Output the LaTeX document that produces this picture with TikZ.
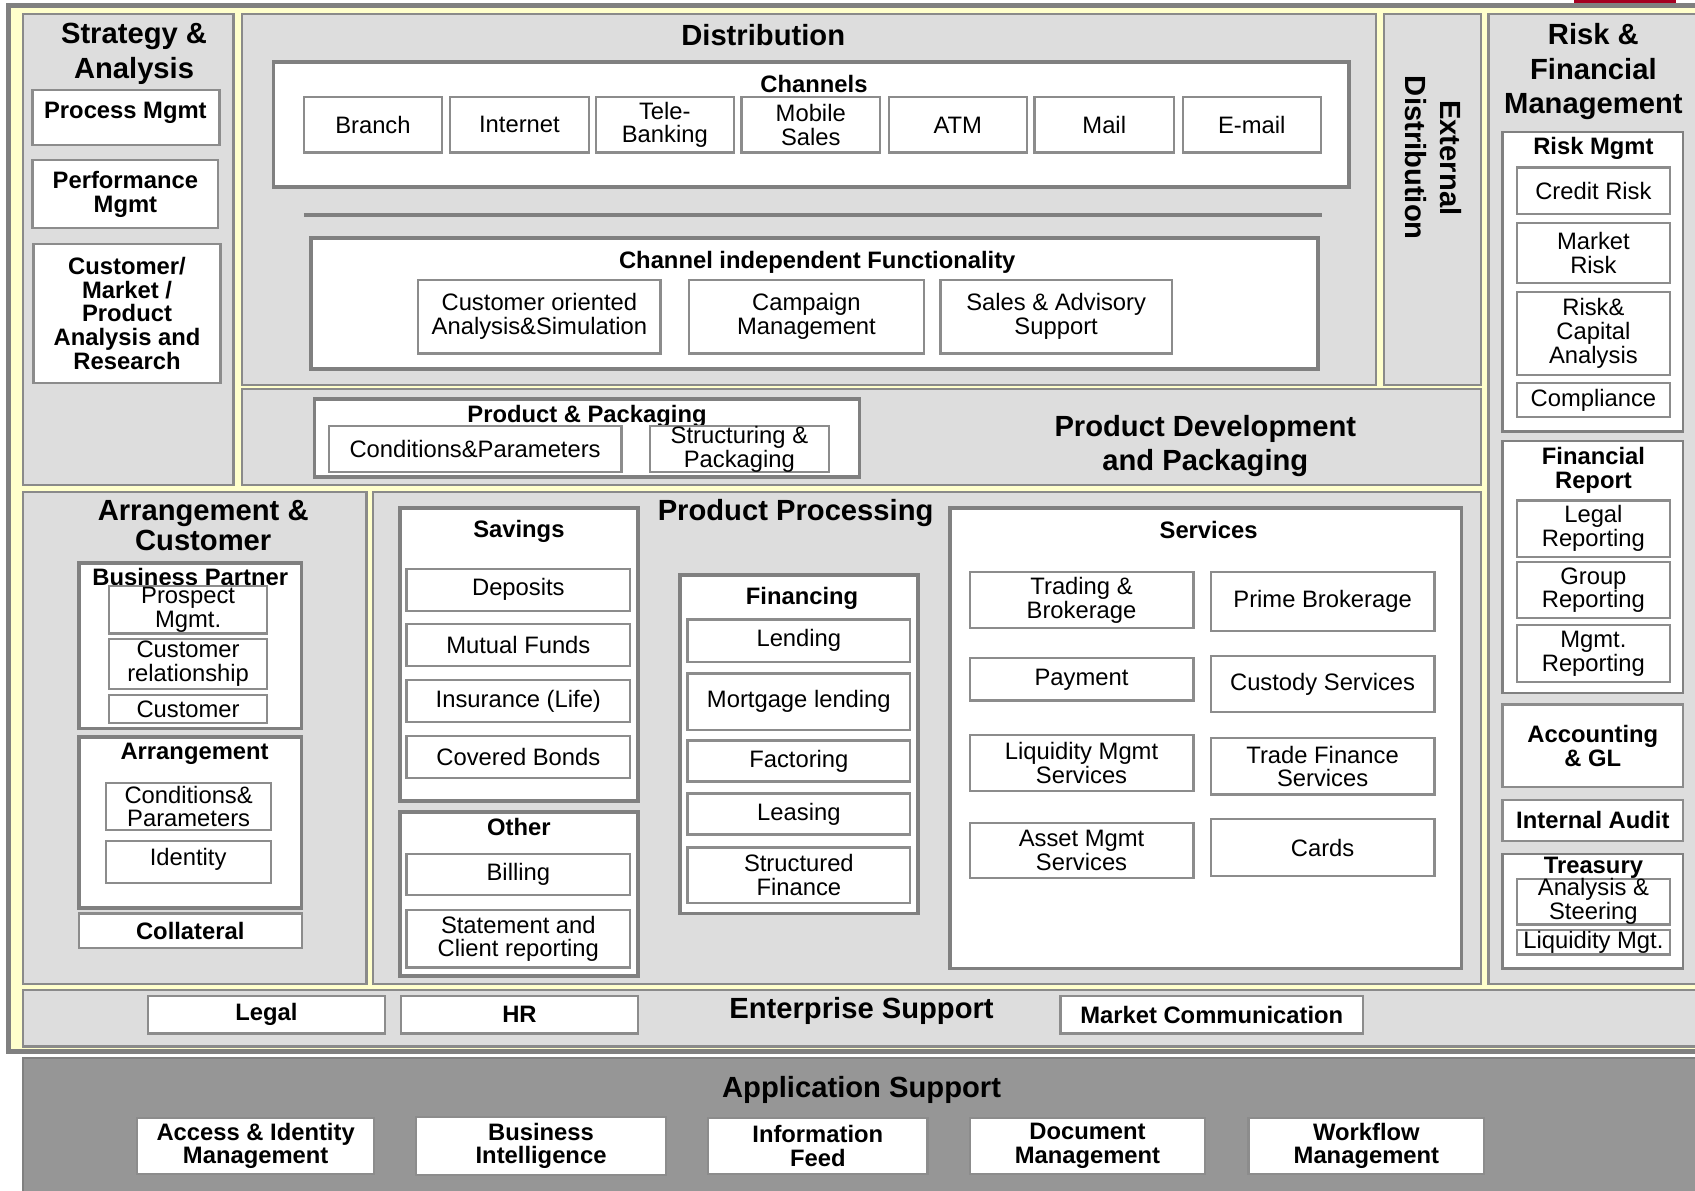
\documentclass[tikz,border=0pt]{standalone}
\usepackage{fontspec}
\setmainfont{Liberation Sans}
\definecolor{pfill}{HTML}{DDDDDD}
\definecolor{pborder}{HTML}{8A8A8A}
\definecolor{cborder}{HTML}{808080}
\definecolor{iborder}{HTML}{8C8C8C}
\definecolor{yellowbg}{HTML}{FFFFCC}
\definecolor{appfill}{HTML}{969696}
\definecolor{redbar}{HTML}{A50021}
\newcommand\fitem{\fontsize{22}{22}\selectfont}
\newcommand\fbitem{\bfseries\fontsize{22}{22}\selectfont}
\newcommand\fsect{\bfseries\fontsize{27}{32}\selectfont}
\newcommand\bx[7][item]{%
  \pgfmathsetmacro\bxcx{(#3+#5)/2}%
  \pgfmathsetmacro\bxcy{(#4+#6)/2}%
  \pgfmathsetmacro\bxw{#5-#3}%
  \pgfmathsetmacro\bxh{#6-#4}%
  \node[#1, minimum width=\bxw pt, minimum height=\bxh pt] (#2) at (\bxcx,\bxcy) {#7};}
\tikzset{
  outerframe/.style={draw=cborder, fill=yellowbg, line width=4.5pt, inner sep=0pt},
  apppanel/.style={draw=cborder, fill=appfill, line width=2pt, inner sep=0pt},
  redbox/.style={fill=redbar, draw=none, inner sep=0pt},
  panel/.style={draw=pborder, fill=pfill, line width=2pt, inner sep=0pt},
  cont/.style={draw=cborder, fill=white, line width=3.5pt, inner sep=0pt},
  conttwo/.style={draw=cborder, fill=white, line width=2.5pt, inner sep=0pt},
  item/.style={draw=iborder, fill=white, line width=2pt, inner sep=0pt, align=center, font=\fitem},
  bitem/.style={item, font=\fbitem},
  sect/.style={align=center, font=\fsect, inner sep=0pt},
  ctitle/.style={align=center, font=\fbitem, inner sep=0pt},
  sepline/.style={draw=cborder, line width=4pt},
}
\begin{document}
\begin{tikzpicture}[x=1pt,y=-1pt]
\useasboundingbox (0,0) rectangle (1568,1101);
% outer frame and panels
\bx[outerframe]{frame}{7.5}{5}{1640}{973}{}
\bx[redbox]{rbar}{1456}{-3}{1550}{3}{}
\bx[panel]{strat}{21}{13}{216}{449}{}
\bx[panel]{dist}{224}{13}{1273}{356}{}
\bx[panel]{ext}{1280}{13}{1370}{356}{}
\bx[panel]{risk}{1377}{13}{1640}{910}{}
\bx[panel]{pdev}{224}{360}{1370}{449}{}
\bx[panel]{arr}{21}{455}{339}{910}{}
\bx[panel]{proc}{345}{455}{1370}{910}{}
\bx[panel]{ent}{21}{916}{1640}{968}{}
\bx[apppanel]{app}{21}{979}{1640}{1130}{}
% section titles
\node[sect] (stratt) at (124,50) {Strategy \&\\Analysis};
\node[sect] (distt) at (706,32) {Distribution};
\node[sect, rotate=-90] (extt) at (1326,146) {External\\Distribution};
\node[sect] (riskt) at (1474,66.5) {Risk \&\\Financial\\Management};
\node[sect] (pdevt) at (1115,412.5) {Product Development\\and Packaging};
\node[sect, font=\bfseries\fontsize{27}{28}\selectfont] (arrt) at (188,486) {Arrangement \&\\Customer};
\node[sect] (proct) at (736,475) {Product Processing};
\node[sect] (entt) at (797,935) {Enterprise Support};
\node[sect] (appt) at (797,1008) {Application Support};
% strategy & analysis
\bx[bitem]{procm}{30}{83}{203}{134}{}
\node[ctitle] (procmt) at (116,104) {Process Mgmt};
\bx[bitem]{perfm}{30}{148}{202}{211}{Performance\\Mgmt}
\bx[bitem]{cmpa}{31}{226}{204}{354}{Customer/\\Market /\\Product\\Analysis and\\Research}
% distribution
\bx[cont]{chan}{253}{57}{1248}{173}{}
\node[ctitle] (chant) at (753,78) {Channels};
\bx{branch}{281}{90}{409}{141}{Branch}
\bx{internet}{416}{90}{545}{141}{Internet}
\bx{tele}{551}{90}{679}{141}{Tele-\\Banking}
\bx{mobile}{686}{90}{814}{141}{Mobile\\Sales}
\bx{atm}{822}{90}{950}{141}{ATM}
\bx{mail}{957}{90}{1086}{141}{Mail}
\bx{email}{1094}{90}{1222}{141}{E-mail}
\coordinate (sepa) at (281,199);
\coordinate (sepb) at (1223,199);
\draw[sepline] (sepa) -- (sepb);
\bx[cont]{cif}{288}{220}{1219}{341}{}
\node[ctitle] (cift) at (756,242.5) {Channel independent Functionality};
\bx{coa}{387}{259}{611}{327}{Customer oriented\\Analysis\&Simulation}
\bx{camp}{637}{259}{855}{327}{Campaign\\Management}
\bx{sales}{870}{259}{1084}{327}{Sales \& Advisory\\Support}
% risk & financial management
\bx[conttwo]{riskm}{1390}{122}{1557}{399}{}
\node[ctitle] (riskmt) at (1474,137) {Risk Mgmt};
\bx{credit}{1403}{155}{1545}{198}{Credit Risk}
\bx{market}{1403}{206}{1545}{262}{Market\\Risk}
\bx{rca}{1403}{270}{1545}{347}{Risk\&\\Capital\\Analysis}
\bx{compl}{1403}{354}{1545}{386}{Compliance}
\bx[conttwo]{finrep}{1390}{408}{1557}{641}{}
\node[ctitle] (finrept) at (1474,435) {Financial\\Report};
\bx{legalr}{1403}{463}{1545}{515}{Legal\\Reporting}
\bx{groupr}{1403}{520}{1545}{572}{Group\\Reporting}
\bx{mgmtr}{1403}{578}{1545}{631}{Mgmt.\\Reporting}
\bx[bitem, line width=2.5pt]{acct}{1390}{652}{1557}{728}{Accounting\\\& GL}
\bx[bitem, line width=2.5pt]{audit}{1390}{740}{1557}{778}{Internal Audit}
\bx[conttwo]{treas}{1390}{790}{1557}{896}{}
\node[ctitle] (treast) at (1474,803) {Treasury};
\bx{anst}{1403}{813}{1545}{855}{Analysis \&\\Steering}
\bx{liq}{1403}{860}{1545}{883}{Liquidity Mgt.}
% product development
\bx[cont]{pp}{291}{369}{795}{441}{}
\node[ctitle] (ppt) at (543,385) {Product \& Packaging};
\bx{condp}{304}{394}{575}{437}{Conditions\&Parameters}
\bx{structp}{601}{394}{767}{437}{Structuring \&\\Packaging}
% arrangement & customer
\bx[cont]{bp}{73}{521}{279}{674}{}
\node[ctitle] (bpt) at (176,534) {Business Partner};
\bx{prosp}{101}{542}{247}{586}{Prospect\\Mgmt.}
\bx{custrel}{101}{591}{247}{637}{Customer\\relationship}
\bx{cust}{101}{643}{247}{669}{Customer}
\bx[cont]{arrb}{73}{682}{279}{840}{}
\node[ctitle] (arrbt) at (180,697.5) {Arrangement};
\bx{condtwo}{98}{724}{251}{768}{Conditions\&\\Parameters}
\bx{ident}{98}{778}{251}{817}{}
\node[ctitle, font=\fitem] (identt) at (174,795) {Identity};
\bx[bitem]{coll}{73}{845}{279}{877}{Collateral}
% product processing
\bx[cont]{sav}{370}{470}{590}{741}{}
\node[ctitle] (savt) at (480,492) {Savings};
\bx{deposits}{376}{526}{583}{565}{Deposits}
\bx{mutual}{376}{577}{583}{616}{Mutual Funds}
\bx{insur}{376}{629}{583}{668}{Insurance (Life)}
\bx{covered}{376}{681}{583}{720}{Covered Bonds}
\bx[cont]{other}{370}{751}{590}{903}{}
\node[ctitle] (othert) at (480,765) {Other};
\bx{billing}{376}{790}{583}{828}{Billing}
\bx{stmt}{376}{842}{583}{895}{Statement and\\Client reporting}
\bx[cont]{fin}{629}{532}{849}{845}{}
\node[ctitle] (fint) at (742,554) {Financing};
\bx{lend}{636}{573}{842}{612}{Lending}
\bx{mort}{636}{623}{842}{675}{Mortgage lending}
\bx{fact}{636}{685}{842}{723}{Factoring}
\bx{leas}{636}{734}{842}{772}{Leasing}
\bx{structf}{636}{784}{842}{835}{Structured\\Finance}
\bx[cont]{serv}{879}{470}{1352}{896}{}
\node[ctitle] (servt) at (1118,490) {Services};
\bx{trad}{897}{529}{1104}{581}{Trading \&\\Brokerage}
\bx{prime}{1120}{529}{1327}{584}{Prime Brokerage}
\bx{pay}{897}{609}{1104}{648}{Payment}
\bx{custody}{1120}{607}{1327}{659}{Custody Services}
\bx{liqm}{897}{680}{1104}{732}{Liquidity Mgmt\\Services}
\bx{tradef}{1120}{683}{1327}{735}{Trade Finance\\Services}
\bx{asset}{897}{761}{1104}{812}{Asset Mgmt\\Services}
\bx{cards}{1120}{758}{1327}{810}{Cards}
% enterprise support
\bx[bitem]{legal}{137}{921}{356}{956}{Legal}
\bx[bitem]{hr}{371}{921}{590}{956}{HR}
\bx[bitem]{mcom}{981}{921}{1261}{956}{Market Communication}
% application support
\bx[bitem]{aim}{127}{1034}{346}{1086}{Access \& Identity\\Management}
\bx[bitem]{bi}{385}{1033}{616}{1087}{Business\\Intelligence}
\bx[bitem]{ifeed}{655}{1034}{858}{1086}{Information\\Feed}
\bx[bitem]{docm}{897}{1034}{1115}{1086}{Document\\Management}
\bx[bitem]{wfm}{1155}{1034}{1373}{1086}{Workflow\\Management}
\end{tikzpicture}
\end{document}
